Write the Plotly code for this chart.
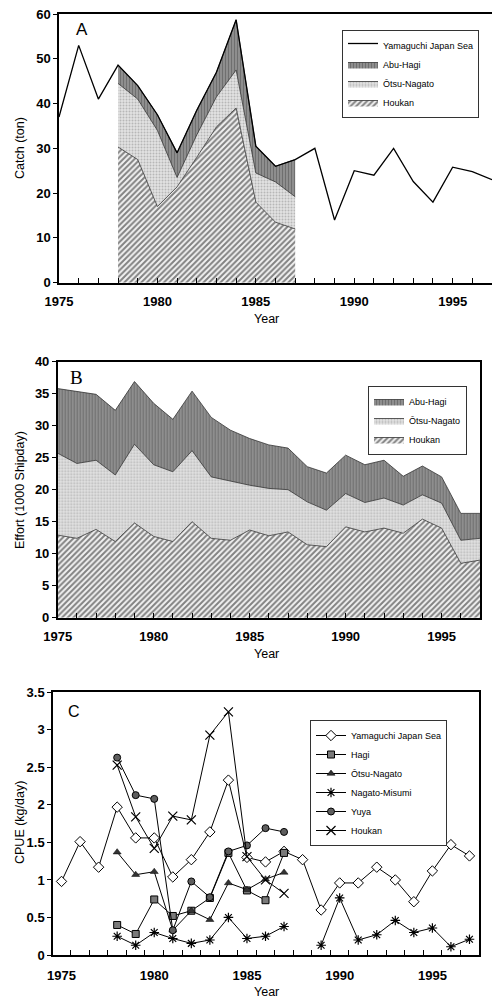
import plotly.graph_objects as go

# ---------------- data ----------------
years_all = list(range(1975, 1998))
years_stack = list(range(1978, 1988))

# Panel A: catch (ton)
catch_yamaguchi = [37, 53, 41, 48.6, 44, 37.5, 29, 38.5, 47, 58.7, 30.5, 26, 27.5,
                   30, 14, 25, 24, 30, 22.6, 18, 25.8, 24.8, 23]
catch_houkan = [30.3, 27.5, 17, 21.4, 28, 34.8, 39, 18, 13.5, 12]
catch_otsu = [14.2, 13.5, 17, 2.1, 5, 6.7, 8.5, 6.5, 9, 7.2]
catch_abuhagi = [4.1, 3, 3.5, 5.5, 5.5, 5.5, 11.2, 6, 3.5, 8.3]

# Panel B: effort (1000 shipday)
eff_houkan = [12.9, 12.4, 13.8, 11.9, 14.8, 12.7, 11.9, 15, 12.4, 12.1, 13.7, 12.8,
              13.4, 11.4, 11.1, 14.2, 13.4, 14, 13.2, 15.4, 14, 8.5, 9]
eff_otsu = [12.8, 11.7, 10.8, 10.4, 12.3, 11.2, 10.9, 11.1, 9.6, 9.2, 7.0, 7.4,
            6.6, 6.7, 5.7, 5.2, 4.6, 4.7, 4.4, 3.8, 3.9, 3.6, 3.4]
eff_abuhagi = [10.1, 11.2, 10.3, 10.1, 9.8, 9.6, 8.2, 9.3, 9.3, 8.0, 7.3, 6.8,
               6.5, 5.5, 5.8, 6.0, 5.9, 5.9, 4.5, 4.5, 4.1, 4.2, 3.9]

# Panel C: CPUE (kg/day)
cpue_yamaguchi = [0.98, 1.51, 1.17, 1.97, 1.56, 1.56, 1.04, 1.27, 1.64, 2.33, 1.30,
                  1.24, 1.38, 1.27, 0.60, 0.96, 0.96, 1.17, 1.0, 0.71, 1.12, 1.47, 1.32]
cpue_hagi = [0.40, 0.28, 0.74, 0.52, 0.59, 0.76, 1.36, 0.86, 0.73, 1.36]
cpue_otsu = [1.37, 1.07, 1.11, 0.33, 0.59, 0.47, 0.96, 0.87, 1.01, 1.10]
years_misumi = list(range(1978, 1998))
cpue_misumi = [0.25, 0.13, 0.30, 0.22, 0.155, 0.2, 0.50, 0.22, 0.25, 0.38, None,
               0.13, 0.76, 0.2, 0.27, 0.46, 0.30, 0.36, 0.11, 0.21]
cpue_yuya = [2.63, 2.13, 2.08, 0.33, 0.98, 0.77, 1.38, 1.46, 1.69, 1.64]
cpue_houkan = [2.53, 1.84, 1.42, 1.85, 1.80, 2.93, 3.24, 1.31, 1.0, 0.82]

label_years = [1975, 1980, 1985, 1990, 1995]

# ---------------- helpers ----------------
W, H = 492, 1000
def px(x):
    return x / W
def py(y):
    return 1 - y / H

FONT = "Liberation Sans"
tickfont = dict(family=FONT, size=13, color="black", weight="bold")

HOUKAN_PAT = dict(shape="/", fgcolor="#111111", bgcolor="#f2f2f2", size=4, solidity=0.5)
OTSU_PAT = dict(shape=".", fgcolor="#8c8c8c", bgcolor="#e2e2e2", size=3, solidity=0.35)
ABU_PAT = dict(shape="|", fgcolor="#4a4a4a", bgcolor="#8e8e8e", size=3, solidity=0.3)

fig = go.Figure()

# ---------------- Panel A ----------------
for name, vals, pat in [("Houkan", catch_houkan, HOUKAN_PAT),
                        ("Ōtsu-Nagato", catch_otsu, OTSU_PAT),
                        ("Abu-Hagi", catch_abuhagi, ABU_PAT)]:
    fig.add_trace(go.Scatter(x=years_stack, y=vals, name=name, stackgroup="a",
                             mode="lines", line=dict(color="#333", width=0.8),
                             fillpattern=pat, xaxis="x", yaxis="y", legend="legend"))
fig.add_trace(go.Scatter(x=years_all, y=catch_yamaguchi, name="Yamaguchi Japan Sea",
                         mode="lines", line=dict(color="black", width=1.3),
                         fill="tozeroy", fillcolor="rgba(255,255,255,0)",
                         xaxis="x", yaxis="y", legend="legend"))

# ---------------- Panel B ----------------
for name, vals, pat in [("Houkan", eff_houkan, HOUKAN_PAT),
                        ("Ōtsu-Nagato", eff_otsu, OTSU_PAT),
                        ("Abu-Hagi", eff_abuhagi, ABU_PAT)]:
    fig.add_trace(go.Scatter(x=years_all, y=vals, name=name, stackgroup="b",
                             mode="lines", line=dict(color="#333", width=0.8),
                             fillpattern=pat, xaxis="x2", yaxis="y2", legend="legend2"))

# ---------------- Panel C ----------------
series_c = [
    ("Yamaguchi Japan Sea", years_all, cpue_yamaguchi,
     dict(symbol="diamond", size=8, color="white", line=dict(color="black", width=1))),
    ("Hagi", years_stack, cpue_hagi,
     dict(symbol="square", size=7, color="#7a7a7a", line=dict(color="black", width=1))),
    ("Ōtsu-Nagato", years_stack, cpue_otsu,
     dict(symbol="triangle-up", size=7, color="#333333", line=dict(color="black", width=0.5))),
    ("Nagato-Misumi", years_misumi, cpue_misumi,
     dict(symbol="asterisk-open", size=8, color="black", line=dict(color="black", width=1.2))),
    ("Yuya", years_stack, cpue_yuya,
     dict(symbol="circle", size=7, color="#5e5e5e", line=dict(color="black", width=1))),
    ("Houkan", years_stack, cpue_houkan,
     dict(symbol="x-thin-open", size=9, color="black", line=dict(color="black", width=1.2))),
]
for name, xs, ys, mk in series_c:
    fig.add_trace(go.Scatter(x=xs, y=ys, name=name, mode="lines+markers",
                             line=dict(color="black", width=1), marker=mk,
                             connectgaps=False, xaxis="x3", yaxis="y3", legend="legend3"))

# ---------------- axes ----------------
def xaxis_common(domain, rng, anchor, minor_vals=None):
    d = dict(domain=domain, range=rng, anchor=anchor, showgrid=False, zeroline=False,
             showline=True, linecolor="black", linewidth=1.5, mirror=True,
             tickmode="array", tickvals=label_years, ticks="inside", ticklen=5,
             tickcolor="black", tickfont=tickfont, automargin=False,
             ticklabelstandoff=6)
    if minor_vals is not None:
        d["minor"] = dict(tickmode="array", tickvals=minor_vals, ticks="inside",
                          ticklen=5, tickcolor="black", showgrid=False)
    return d

def yaxis_common(domain, rng, dtick, anchor):
    return dict(domain=domain, range=rng, anchor=anchor, dtick=dtick, tick0=0,
                showgrid=False, zeroline=False, showline=True, linecolor="black",
                linewidth=1.5, mirror=True, ticks="outside", ticklen=4,
                tickcolor="black", tickfont=tickfont, automargin=False)

fig.update_layout(
    xaxis=xaxis_common([px(59), 1.0], [1975, 1997], "y", years_all),
    yaxis=yaxis_common([py(282.7), py(14)], [0, 60], 10, "x"),
    xaxis2=xaxis_common([px(57.7), px(480)], [1975, 1997], "y2", years_all),
    yaxis2=yaxis_common([py(617.7), py(361.7)], [0, 40], 5, "x2"),
    xaxis3=xaxis_common([px(53), px(479.3)], [1974.54, 1997.53], "y3",
                        [y + 0.5 for y in range(1974, 1998)]),
    yaxis3=yaxis_common([py(955), py(692.3)], [0, 3.5], 0.5, "x3"),
)
fig.update_layout(xaxis3=dict(ticklen=0, ticklabelstandoff=8))

legend_font = dict(family=FONT, size=9, color="black")
legend_common = dict(bgcolor="white", bordercolor="#333", borderwidth=1,
                     font=legend_font, xanchor="left", yanchor="top",
                     tracegroupgap=0, itemwidth=30, itemsizing="trace")
fig.update_layout(
    legend=dict(x=px(342), y=py(30), traceorder="reversed", **legend_common),
    legend2=dict(x=px(368), y=py(386), traceorder="reversed", **legend_common),
    legend3=dict(x=px(310), y=py(720), traceorder="normal", **legend_common),
)

# ---------------- text annotations ----------------
title_font = dict(family=FONT, size=12.5, color="black")
ann = []
def add_text(x, y, text, font, angle=0):
    ann.append(dict(x=px(x), y=py(y), xref="paper", yref="paper", text=text,
                    showarrow=False, font=font, textangle=angle,
                    xanchor="center", yanchor="middle"))

add_text(20, 148, "Catch (ton)", title_font, -90)
add_text(266, 319, "Year", title_font)
add_text(20, 490, "Effort (1000 Shipday)", title_font, -90)
add_text(266, 654, "Year", title_font)
add_text(20, 823, "CPUE (kg/day)", title_font, -90)
add_text(266, 992, "Year", title_font)
add_text(82, 29, "A", dict(family=FONT, size=17, color="black"))
add_text(76, 377, "B", dict(family="Liberation Serif", size=19, color="black"))
add_text(74, 711, "C", dict(family=FONT, size=16, color="black"))

fig.update_layout(annotations=ann, width=W, height=H,
                  margin=dict(l=0, r=0, t=0, b=0, autoexpand=False),
                  paper_bgcolor="white", plot_bgcolor="white", showlegend=True)

fig.write_html("out.html", config={"displayModeBar": False},
               post_script="document.body.style.margin='0';document.body.style.padding='0';")
